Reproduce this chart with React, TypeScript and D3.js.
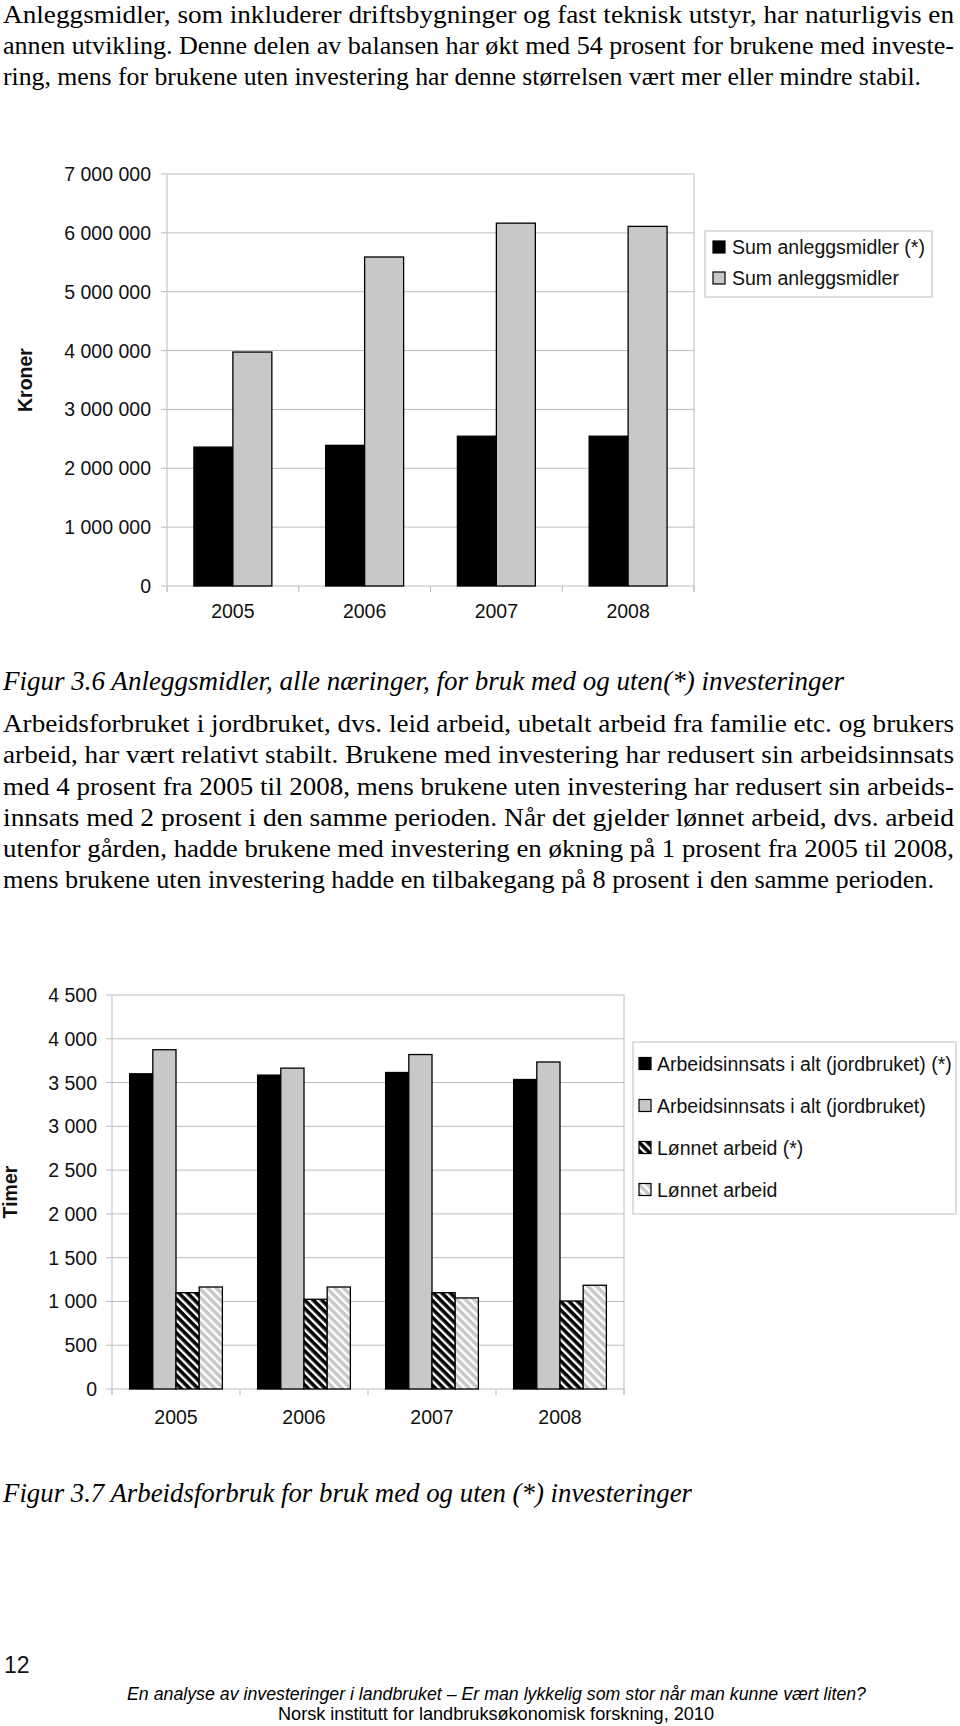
import React from "react";
import * as d3 from "d3";

// ---------- DATA ----------
const years = ["2005", "2006", "2007", "2008"];

// Figur 3.6 (kroner)
const anleggsmidlerUten = [2360000, 2390000, 2545000, 2545000]; // (*) uten investering
const anleggsmidlerMed = [3975000, 5590000, 6165000, 6110000];
const kronerTicks = [0, 1000000, 2000000, 3000000, 4000000, 5000000, 6000000, 7000000];

// Figur 3.7 (timer)
const arbeidsinnsatsUten = [3600, 3585, 3615, 3535]; // (*)
const arbeidsinnsatsMed = [3875, 3665, 3820, 3735];
const lonnetUten = [1100, 1025, 1100, 1005]; // (*)
const lonnetMed = [1165, 1165, 1040, 1185];
const timerTicks = [0, 500, 1000, 1500, 2000, 2500, 3000, 3500, 4000, 4500];

const para1 = [
  "Anleggsmidler, som inkluderer driftsbygninger og fast teknisk utstyr, har naturligvis en",
  "annen utvikling. Denne delen av balansen har økt med 54 prosent for brukene med investe-",
  "ring, mens for brukene uten investering har denne størrelsen vært mer eller mindre stabil.",
];
const para2 = [
  "Arbeidsforbruket i jordbruket, dvs. leid arbeid, ubetalt arbeid fra familie etc. og brukers",
  "arbeid, har vært relativt stabilt. Brukene med investering har redusert sin arbeidsinnsats",
  "med 4 prosent fra 2005 til 2008, mens brukene uten investering har redusert sin arbeids-",
  "innsats med 2 prosent i den samme perioden. Når det gjelder lønnet arbeid, dvs. arbeid",
  "utenfor gården, hadde brukene med investering en økning på 1 prosent fra 2005 til 2008,",
  "mens brukene uten investering hadde en tilbakegang på 8 prosent i den samme perioden.",
];
const caption1 = "Figur 3.6 Anleggsmidler, alle næringer, for bruk med og uten(*) investeringer";
const caption2 = "Figur 3.7 Arbeidsforbruk for bruk med og uten (*) investeringer";
const footer1 = "En analyse av investeringer i landbruket – Er man lykkelig som stor når man kunne vært liten?";
const footer2 = "Norsk institutt for landbruksøkonomisk forskning, 2010";

const fmt = d3
  .formatLocale({ decimal: ",", thousands: " ", grouping: [3], currency: ["", ""] })
  .format(",d");

const SANS = "'Liberation Sans', Arial, sans-serif";
const SERIF = "'Liberation Serif', 'Times New Roman', serif";
const GRID = "#bdbdbd";
const GREY = "#c8c8c8";

type Series = { name: string; values: number[]; fill: string };

function BarChart(props: {
  left: number; right: number; top: number; bottom: number; max: number;
  ticks: number[]; series: Series[]; outerPad: number; labelRight: number;
  xLabelY: number; title: string; titleX: number;
  legend: { x: number; y: number; w: number; h: number; sqX: number; textX: number; rows: number[] };
}) {
  const { left, right, top, bottom, max, ticks, series, outerPad, labelRight, xLabelY, title, titleX, legend } = props;
  const x0 = d3.scaleBand<string>().domain(years).range([left, right]).padding(0);
  const x1 = d3
    .scaleBand<string>()
    .domain(series.map((s) => s.name))
    .range([0, x0.bandwidth()])
    .paddingInner(0)
    .paddingOuter(outerPad);
  const y = d3.scaleLinear().domain([0, max]).range([bottom, top]);
  const bounds = [...years.map((yr) => x0(yr) as number), right];
  return (
    <g>
      {ticks.map((t) => (
        <g key={t}>
          <line x1={left - 6} x2={right} y1={y(t)} y2={y(t)} stroke={GRID} strokeWidth={1} />
          <text x={labelRight} y={y(t) + 7} textAnchor="end" fontFamily={SANS} fontSize={19.5} fill="#111">
            {fmt(t)}
          </text>
        </g>
      ))}
      <line x1={left} x2={left} y1={top} y2={bottom + 6} stroke={GRID} />
      <line x1={right} x2={right} y1={top} y2={bottom + 6} stroke={GRID} />
      {bounds.map((b, i) => (
        <line key={i} x1={b} x2={b} y1={bottom} y2={bottom + 6} stroke={GRID} />
      ))}
      {years.map((yr, i) => (
        <g key={yr}>
          {series.map((s) => (
            <rect
              key={s.name}
              x={(x0(yr) as number) + (x1(s.name) as number)}
              y={y(s.values[i])}
              width={x1.bandwidth()}
              height={bottom - y(s.values[i])}
              fill={s.fill}
              stroke="#000"
              strokeWidth={1.3}
            />
          ))}
          <text
            x={(x0(yr) as number) + x0.bandwidth() / 2}
            y={xLabelY}
            textAnchor="middle"
            fontFamily={SANS}
            fontSize={19.5}
            fill="#111"
          >
            {yr}
          </text>
        </g>
      ))}
      <text
        transform={`translate(${titleX},${(top + bottom) / 2}) rotate(-90)`}
        textAnchor="middle"
        dy={7}
        fontFamily={SANS}
        fontWeight="bold"
        fontSize={19.5}
        fill="#111"
      >
        {title}
      </text>
      <rect x={legend.x} y={legend.y} width={legend.w} height={legend.h} fill="#fff" stroke={GRID} />
      {series.map((s, i) => (
        <g key={s.name}>
          <rect x={legend.sqX} y={legend.rows[i] - 6} width={12} height={12} fill={s.fill} stroke="#000" strokeWidth={1.2} />
          <text x={legend.textX} y={legend.rows[i] + 7} fontFamily={SANS} fontSize={19.5} fill="#111">
            {s.name}
          </text>
        </g>
      ))}
    </g>
  );
}

function Line(props: { text: string; x: number; y: number; w: number; size: number; family: string; italic?: boolean }) {
  return (
    <text
      x={props.x}
      y={props.y}
      textLength={props.w}
      lengthAdjust="spacingAndGlyphs"
      fontFamily={props.family}
      fontSize={props.size}
      fontStyle={props.italic ? "italic" : "normal"}
      fill="#000"
    >
      {props.text}
    </text>
  );
}

export default function App() {
  const p1Base = [23, 54, 85];
  const p1End = [954, 954, 921];
  const p2Base = [732, 763, 794.5, 826, 857, 888];
  const p2End = [954, 954, 954, 954, 954, 934];
  return (
    <svg
      width={960}
      height={1726}
      viewBox="0 0 960 1726"
      style={{ position: "absolute", left: 0, top: 0, background: "#fff" }}
    >
      <defs>
        <pattern id="hatchBlack" patternUnits="userSpaceOnUse" width={6} height={6} patternTransform="rotate(-45)">
          <rect width={6} height={6} fill="#000" />
          <rect width={2.4} height={6} fill="#fff" />
        </pattern>
        <pattern id="hatchGrey" patternUnits="userSpaceOnUse" width={6} height={6} patternTransform="rotate(-45)">
          <rect width={6} height={6} fill={GREY} />
          <rect width={2.4} height={6} fill="#fff" />
        </pattern>
      </defs>
      <rect width={960} height={1726} fill="#fff" />

      {para1.map((t, i) => (
        <Line key={i} text={t} x={3} y={p1Base[i]} w={p1End[i] - 3} size={25.5} family={SERIF} />
      ))}

      <BarChart
        left={167}
        right={694}
        top={174}
        bottom={586}
        max={7000000}
        ticks={kronerTicks}
        outerPad={0.69}
        labelRight={151}
        xLabelY={618}
        title="Kroner"
        titleX={25}
        series={[
          { name: "Sum anleggsmidler (*)", values: anleggsmidlerUten, fill: "#000" },
          { name: "Sum anleggsmidler", values: anleggsmidlerMed, fill: GREY },
        ]}
        legend={{ x: 705, y: 231, w: 227, h: 66, sqX: 713, textX: 732, rows: [247, 278] }}
      />

      <Line text={caption1} x={3} y={690} w={841} size={28} family={SERIF} italic />

      {para2.map((t, i) => (
        <Line key={i} text={t} x={3} y={p2Base[i]} w={p2End[i] - 3} size={25.5} family={SERIF} />
      ))}

      <BarChart
        left={112}
        right={624}
        top={995}
        bottom={1389}
        max={4500}
        ticks={timerTicks}
        outerPad={0.76}
        labelRight={97}
        xLabelY={1424}
        title="Timer"
        titleX={10}
        series={[
          { name: "Arbeidsinnsats i alt (jordbruket) (*)", values: arbeidsinnsatsUten, fill: "#000" },
          { name: "Arbeidsinnsats i alt (jordbruket)", values: arbeidsinnsatsMed, fill: GREY },
          { name: "Lønnet arbeid (*)", values: lonnetUten, fill: "url(#hatchBlack)" },
          { name: "Lønnet arbeid", values: lonnetMed, fill: "url(#hatchGrey)" },
        ]}
        legend={{ x: 633, y: 1042, w: 323, h: 172, sqX: 639, textX: 657, rows: [1063.5, 1105.5, 1147.5, 1189.5] }}
      />

      <Line text={caption2} x={3} y={1502} w={689} size={28} family={SERIF} italic />

      <text x={4} y={1673} fontFamily={SANS} fontSize={23} fill="#111">12</text>
      <Line text={footer1} x={127} y={1700} w={739} size={18} family={SANS} italic />
      <Line text={footer2} x={278} y={1720} w={436} size={18} family={SANS} />
    </svg>
  );
}
